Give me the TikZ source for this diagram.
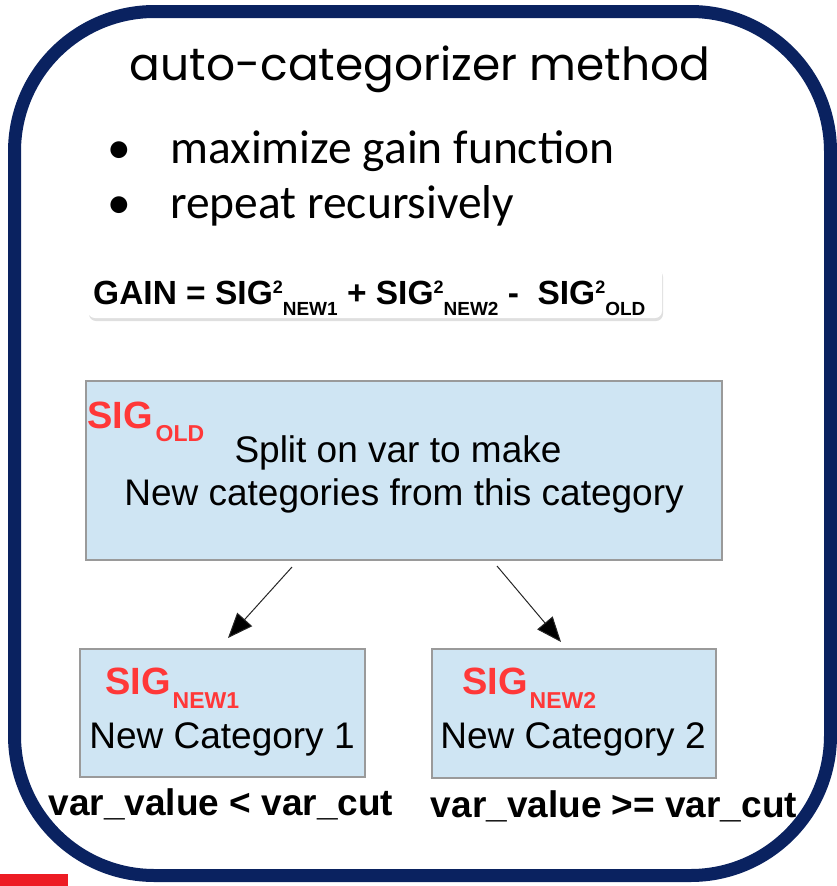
\documentclass[tikz,border=0pt]{standalone}
\usepackage{fontspec}
\setmainfont{Liberation Sans}
\newfontfamily\titlefont{Poppins}
\newfontfamily\bulletfont{Carlito}
\usetikzlibrary{shadows,arrows.meta}
\definecolor{navy}{HTML}{0A2260}
\definecolor{boxblue}{HTML}{CFE5F3}
\definecolor{boxgray}{HTML}{9A9A9A}
\definecolor{sigred}{HTML}{FF3838}
\definecolor{barred}{HTML}{ED1C24}
\begin{document}
\begin{tikzpicture}[x=1pt,y=-1pt,
  catbox/.style={draw=boxgray, fill=boxblue, line width=1.3pt, inner sep=0pt},
  boxtext/.style={font=\fontsize{37}{44}\selectfont, inner sep=0pt},
  sigtext/.style={font=\bfseries\fontsize{38}{40}\selectfont, text=sigred, inner sep=0pt},
  cuttext/.style={font=\bfseries\fontsize{37}{40}\selectfont, inner sep=0pt},
  bullettext/.style={font=\bulletfont\fontsize{47.5}{50}\selectfont, inner sep=0pt},
  splitarrow/.style={line width=1pt, draw=black!85, -{Triangle[length=25pt,width=20pt,fill=black]}}
]
\useasboundingbox (0,0) rectangle (837,886);
% red bar
\fill[barred] (0,874) rectangle (68,886);
% frame
\draw[navy, line width=13pt, rounded corners=140pt] (14.5,11.5) rectangle (830.5,875.5);
% title
\node[anchor=base, inner sep=0pt, font=\titlefont\fontsize{45.5}{50}\selectfont] (title) at (420,80) {auto-categorizer method};
% bullets
\node[bullettext, anchor=base west] (d1) at (107,163) {•};
\node[bullettext, anchor=base west] (b1) at (170,163) {maximize gain function};
\node[bullettext, anchor=base west] (d2) at (107,218) {•};
\node[bullettext, anchor=base west] (b2) at (170,218) {repeat recursively};
% gain formula
\node[fill=white, rounded corners=7pt, minimum width=574pt, minimum height=51pt,
      drop shadow={shadow xshift=1pt, shadow yshift=-3pt, opacity=0.25}] (gainbox) at (375,292.5) {};
\newcommand\gsup{\raisebox{11pt}{\fontsize{18}{18}\selectfont 2}}
\newcommand\gsub[1]{\raisebox{-11pt}{\fontsize{19}{19}\selectfont #1}}
\node[anchor=base west, inner sep=0pt, font=\bfseries\fontsize{33.5}{34}\selectfont] (gain) at (93,304)
  {GAIN = SIG\gsup\gsub{NEW1} + SIG\gsup\gsub{NEW2} -\ \ SIG\gsup\gsub{OLD}};
% old category box
\node[catbox, minimum width=636pt, minimum height=179pt] (old) at (404,470.5) {};
\node[sigtext, anchor=base west] (sigold) at (87,428) {SIG\hspace{3pt}\raisebox{-13pt}{\fontsize{23}{23}\selectfont OLD}};
\node[boxtext, anchor=base] (oldtxt1) at (398,462) {Split on var to make};
\node[boxtext, anchor=base] (oldtxt2) at (404,505) {New categories from this category};
% new boxes
\node[catbox, minimum width=285pt, minimum height=128pt] (new1) at (222.5,713) {};
\node[catbox, minimum width=284pt, minimum height=129pt] (new2) at (574,713.5) {};
\node[sigtext, anchor=base west] (signew1) at (105,694) {SIG\hspace{2pt}\raisebox{-14pt}{\fontsize{23}{23}\selectfont NEW1}};
\node[sigtext, anchor=base west] (signew2) at (462,694) {SIG\hspace{2pt}\raisebox{-14pt}{\fontsize{23}{23}\selectfont NEW2}};
\node[boxtext, anchor=base] (cat1) at (222,748) {New Category 1};
\node[boxtext, anchor=base] (cat2) at (573,748) {New Category 2};
% cut labels
\node[cuttext, anchor=base] (cut1) at (221,815) {var\_value < var\_cut};
\node[cuttext, anchor=base] (cut2) at (614,817) {var\_value >= var\_cut};
% arrows
\coordinate (a1s) at (292,567);
\coordinate (a1e) at (228,638);
\coordinate (a2s) at (497,566);
\coordinate (a2e) at (561,642);
\draw[splitarrow] (a1s) -- (a1e);
\draw[splitarrow] (a2s) -- (a2e);
\end{tikzpicture}
\end{document}
